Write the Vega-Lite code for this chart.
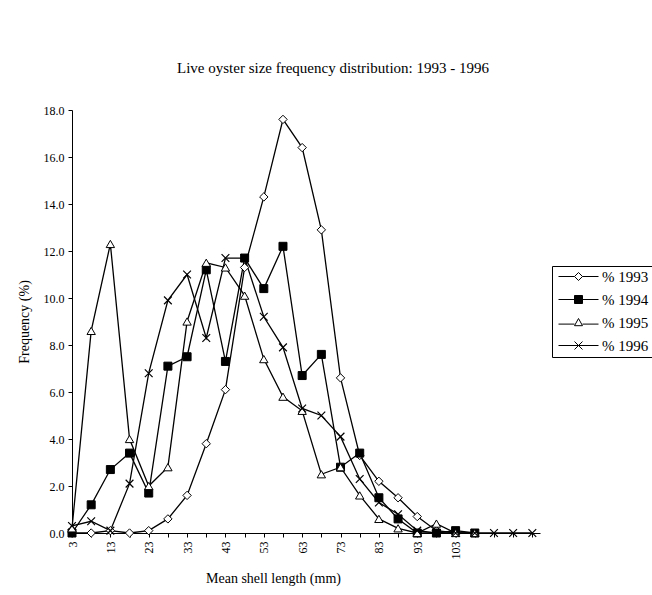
{
  "$schema": "https://vega.github.io/schema/vega-lite/v6.json",
  "width": 468,
  "height": 423,
  "autosize": "none",
  "padding": {"left": 72, "top": 110, "right": 112, "bottom": 62},
  "background": "white",
  "config": {
    "font": "Liberation Serif",
    "view": {"stroke": null},
    "axis": {"grid": false, "domainColor": "black", "tickColor": "black", "labelColor": "black", "titleColor": "black", "labelFont": "Liberation Serif", "titleFont": "Liberation Serif", "titleFontWeight": "normal", "labelFontSize": 12, "titleFontSize": 14}
  },
  "title": {"text": "Live oyster size frequency distribution: 1993 - 1996", "font": "Liberation Serif", "fontSize": 15, "fontWeight": "normal", "color": "black", "anchor": "middle", "dx": 27, "offset": 28},
  "data": {
    "values": [
      {"len": 3, "s": "% 1993", "f": 0.0}, {"len": 8, "s": "% 1993", "f": 0.0}, {"len": 13, "s": "% 1993", "f": 0.1}, {"len": 18, "s": "% 1993", "f": 0.0}, {"len": 23, "s": "% 1993", "f": 0.1}, {"len": 28, "s": "% 1993", "f": 0.6}, {"len": 33, "s": "% 1993", "f": 1.6}, {"len": 38, "s": "% 1993", "f": 3.8}, {"len": 43, "s": "% 1993", "f": 6.1}, {"len": 48, "s": "% 1993", "f": 11.3}, {"len": 53, "s": "% 1993", "f": 14.3}, {"len": 58, "s": "% 1993", "f": 17.6}, {"len": 63, "s": "% 1993", "f": 16.4}, {"len": 68, "s": "% 1993", "f": 12.9}, {"len": 73, "s": "% 1993", "f": 6.6}, {"len": 78, "s": "% 1993", "f": 3.3}, {"len": 83, "s": "% 1993", "f": 2.2}, {"len": 88, "s": "% 1993", "f": 1.5}, {"len": 93, "s": "% 1993", "f": 0.7}, {"len": 98, "s": "% 1993", "f": 0.1}, {"len": 103, "s": "% 1993", "f": 0.0},
      {"len": 3, "s": "% 1994", "f": 0.0}, {"len": 8, "s": "% 1994", "f": 1.2}, {"len": 13, "s": "% 1994", "f": 2.7}, {"len": 18, "s": "% 1994", "f": 3.4}, {"len": 23, "s": "% 1994", "f": 1.7}, {"len": 28, "s": "% 1994", "f": 7.1}, {"len": 33, "s": "% 1994", "f": 7.5}, {"len": 38, "s": "% 1994", "f": 11.2}, {"len": 43, "s": "% 1994", "f": 7.3}, {"len": 48, "s": "% 1994", "f": 11.7}, {"len": 53, "s": "% 1994", "f": 10.4}, {"len": 58, "s": "% 1994", "f": 12.2}, {"len": 63, "s": "% 1994", "f": 6.7}, {"len": 68, "s": "% 1994", "f": 7.6}, {"len": 73, "s": "% 1994", "f": 2.8}, {"len": 78, "s": "% 1994", "f": 3.4}, {"len": 83, "s": "% 1994", "f": 1.5}, {"len": 88, "s": "% 1994", "f": 0.6}, {"len": 93, "s": "% 1994", "f": 0.0}, {"len": 98, "s": "% 1994", "f": 0.0}, {"len": 103, "s": "% 1994", "f": 0.1}, {"len": 108, "s": "% 1994", "f": 0.0},
      {"len": 3, "s": "% 1995", "f": 0.2}, {"len": 8, "s": "% 1995", "f": 8.6}, {"len": 13, "s": "% 1995", "f": 12.3}, {"len": 18, "s": "% 1995", "f": 4.0}, {"len": 23, "s": "% 1995", "f": 2.0}, {"len": 28, "s": "% 1995", "f": 2.8}, {"len": 33, "s": "% 1995", "f": 9.0}, {"len": 38, "s": "% 1995", "f": 11.5}, {"len": 43, "s": "% 1995", "f": 11.3}, {"len": 48, "s": "% 1995", "f": 10.1}, {"len": 53, "s": "% 1995", "f": 7.4}, {"len": 58, "s": "% 1995", "f": 5.8}, {"len": 63, "s": "% 1995", "f": 5.2}, {"len": 68, "s": "% 1995", "f": 2.5}, {"len": 73, "s": "% 1995", "f": 2.8}, {"len": 78, "s": "% 1995", "f": 1.6}, {"len": 83, "s": "% 1995", "f": 0.6}, {"len": 88, "s": "% 1995", "f": 0.2}, {"len": 93, "s": "% 1995", "f": 0.0}, {"len": 98, "s": "% 1995", "f": 0.4}, {"len": 103, "s": "% 1995", "f": 0.0}, {"len": 108, "s": "% 1995", "f": 0.0},
      {"len": 3, "s": "% 1996", "f": 0.3}, {"len": 8, "s": "% 1996", "f": 0.5}, {"len": 13, "s": "% 1996", "f": 0.1}, {"len": 18, "s": "% 1996", "f": 2.1}, {"len": 23, "s": "% 1996", "f": 6.8}, {"len": 28, "s": "% 1996", "f": 9.9}, {"len": 33, "s": "% 1996", "f": 11.0}, {"len": 38, "s": "% 1996", "f": 8.3}, {"len": 43, "s": "% 1996", "f": 11.7}, {"len": 48, "s": "% 1996", "f": 11.7}, {"len": 53, "s": "% 1996", "f": 9.2}, {"len": 58, "s": "% 1996", "f": 7.9}, {"len": 63, "s": "% 1996", "f": 5.3}, {"len": 68, "s": "% 1996", "f": 5.0}, {"len": 73, "s": "% 1996", "f": 4.1}, {"len": 78, "s": "% 1996", "f": 2.3}, {"len": 83, "s": "% 1996", "f": 1.3}, {"len": 88, "s": "% 1996", "f": 0.8}, {"len": 93, "s": "% 1996", "f": 0.1}, {"len": 98, "s": "% 1996", "f": 0.0}, {"len": 103, "s": "% 1996", "f": 0.0}, {"len": 108, "s": "% 1996", "f": 0.0}, {"len": 113, "s": "% 1996", "f": 0.0}, {"len": 118, "s": "% 1996", "f": 0.0}, {"len": 123, "s": "% 1996", "f": 0.0}
    ]
  },
  "encoding": {
    "x": {
      "field": "len", "type": "quantitative",
      "scale": {"domain": [3, 125], "nice": false, "zero": false},
      "axis": {
        "title": "Mean shell length (mm)",
        "values": [3, 8, 13, 18, 23, 28, 33, 38, 43, 48, 53, 58, 63, 68, 73, 78, 83, 88, 93, 98, 103, 108, 113, 118, 123],
        "labelExpr": "datum.value <= 103 && (datum.value - 3) % 10 == 0 ? datum.label : ''",
        "labelAngle": -90, "labelPadding": 4, "tickSize": 4,
        "titleX": 201, "titleY": 38, "titleFontSize": 14
      }
    },
    "y": {
      "field": "f", "type": "quantitative",
      "scale": {"domain": [0, 18], "nice": false},
      "axis": {
        "title": "Frequency (%)",
        "values": [0, 2, 4, 6, 8, 10, 12, 14, 16, 18],
        "format": ".1f", "tickSize": 4, "labelPadding": 4, "titlePadding": 12, "titleFontSize": 14
      }
    }
  },
  "layer": [
    {
      "mark": {"type": "line", "color": "black", "strokeWidth": 1.3},
      "encoding": {"detail": {"field": "s", "type": "nominal"}}
    },
    {
      "transform": [{"filter": "datum.s == '% 1993'"}],
      "mark": {"type": "point", "shape": "M0,-1L1,0L0,1L-1,0Z", "filled": true, "fill": "white", "stroke": "black", "strokeWidth": 1, "opacity": 1, "size": 70}
    },
    {
      "transform": [{"filter": "datum.s == '% 1994'"}],
      "mark": {"type": "point", "shape": "square", "filled": true, "fill": "black", "stroke": "black", "strokeWidth": 1, "opacity": 1, "size": 64}
    },
    {
      "transform": [{"filter": "datum.s == '% 1995'"}],
      "mark": {"type": "point", "shape": "triangle-up", "filled": true, "fill": "white", "stroke": "black", "strokeWidth": 1, "opacity": 1, "size": 70}
    },
    {
      "transform": [{"filter": "datum.s == '% 1996'"}],
      "mark": {"type": "point", "shape": "M-1,-1L1,1M-1,1L1,-1", "filled": false, "stroke": "black", "strokeWidth": 1.2, "opacity": 1, "size": 60}
    },
    {
      "mark": {"type": "point", "filled": true, "strokeWidth": 1, "opacity": 0, "size": 64},
      "encoding": {
        "shape": {
          "field": "s", "type": "nominal",
          "scale": {"domain": ["% 1993", "% 1994", "% 1995", "% 1996"], "range": ["M-5,0L-1,0M1,0L5,0M0,-1L1,0L0,1L-1,0Z", "M-5,0L-1,0M1,0L5,0M-1,-1L1,-1L1,1L-1,1Z", "M-5,0.4L-1,0.4M1,0.4L5,0.4M0,-1L1,0.8L-1,0.8Z", "M-5,0L5,0M-1,-1L1,1M-1,1L1,-1"]},
          "legend": {
            "title": null, "orient": "none", "legendX": 480, "legendY": 156,
            "strokeColor": "black", "fillColor": "white", "padding": 3,
            "labelFontSize": 15, "labelFont": "Liberation Serif", "labelColor": "black",
            "symbolSize": 64, "symbolOffset": 16, "labelOffset": 16, "rowPadding": 7,
            "symbolOpacity": 1, "symbolStrokeWidth": 1
          }
        },
        "fill": {
          "field": "s", "type": "nominal",
          "scale": {"domain": ["% 1993", "% 1994", "% 1995", "% 1996"], "range": ["white", "black", "white", "white"]},
          "legend": {"title": null}
        },
        "stroke": {
          "field": "s", "type": "nominal",
          "scale": {"domain": ["% 1993", "% 1994", "% 1995", "% 1996"], "range": ["black", "black", "black", "black"]},
          "legend": {"title": null}
        }
      }
    }
  ]
}
